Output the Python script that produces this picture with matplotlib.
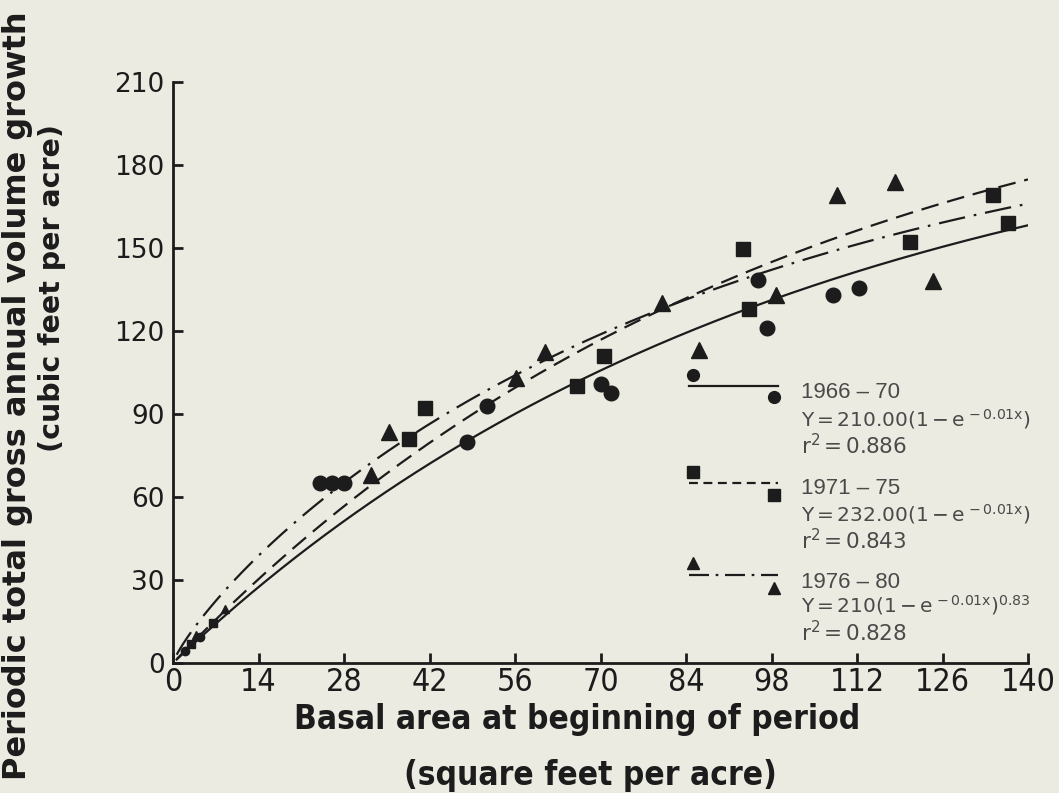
import os
import numpy as np
import matplotlib
matplotlib.use("Agg")
import matplotlib.pyplot as plt
from matplotlib import font_manager
from matplotlib.font_manager import FontProperties

# ---------------- data ----------------
x_1966 = [24, 26, 28, 48.1, 51.4, 70.0, 71.8, 95.8, 97.2, 108.1, 112.4]
y_1966 = [65, 65, 65, 80, 93, 101, 97.5, 138.5, 121, 133, 135.5]
x_1971 = [38.7, 41.2, 66.2, 70.6, 93.4, 94.3, 120.6, 134.2, 136.8]
y_1971 = [81, 92, 100, 111, 149.5, 128, 152, 169, 159]
x_1976 = [32.5, 35.3, 56.2, 60.9, 80.1, 86.1, 98.7, 108.8, 118.3, 124.5]
y_1976 = [68, 83.5, 103, 112.5, 130, 113, 133, 169, 174, 138]
# crowded points near the origin
x_1966_low = [2.0, 4.5]
y_1966_low = [4.5, 9.5]
x_1971_low = [3.0, 6.5]
y_1971_low = [7, 14.5]
x_1976_low = [3.8, 8.5]
y_1976_low = [10, 19.5]

fit_1966 = dict(a=210.0, b=0.01, p=1.0)
fit_1971 = dict(a=232.0, b=0.01, p=1.0)
fit_1976 = dict(a=210.0, b=0.01, p=0.83)

x_ticks = [0, 14, 28, 42, 56, 70, 84, 98, 112, 126, 140]
y_ticks = [0, 30, 60, 90, 120, 150, 180, 210]

legend_titles = ["1966 \u2013 70", "1971 \u2013 75", "1976 \u2013 80"]
legend_eqs = [r"$\mathregular{Y = 210.00(1 - e^{\,-0.01x})}$",
              r"$\mathregular{Y = 232.00(1 - e^{\,-0.01x})}$",
              r"$\mathregular{Y = 210(1 - e^{\,-0.01x})^{0.83}}$"]
legend_r2 = [r"$\mathregular{r^2 = 0.886}$", r"$\mathregular{r^2 = 0.843}$",
             r"$\mathregular{r^2 = 0.828}$"]

# ---------------- fonts ----------------
def find_font(bold):
    prefs = ["liberationsansnarrow", "dejavusanscondensed", "robotocondensed",
             "opensanscondensed", "notosanscondensed", "condensed", "narrow"]
    files = [f.fname for f in font_manager.fontManager.ttflist]
    for key in prefs:
        for fn in files:
            b = os.path.basename(fn).lower().replace("-", "").replace("_", "")
            if key not in b:
                continue
            if "italic" in b or "oblique" in b:
                continue
            is_bold = "bold" in b and "semibold" not in b and "extrabold" not in b
            if bold and is_bold:
                return fn
            if not bold and not any(w in b for w in ["bold", "light", "thin",
                                                     "medium", "black", "semi", "extra"]):
                return fn
    return None

cond_bold = find_font(True)
cond_reg = find_font(False)

plt.rcParams["mathtext.fontset"] = "custom"
plt.rcParams["mathtext.rm"] = "Liberation Sans"
plt.rcParams["mathtext.it"] = "Liberation Sans:italic"
plt.rcParams["mathtext.default"] = "regular"

BG = "#ECEBE1"
INK = "#1c1c1c"
TXT = "#4a4a4a"

fig = plt.figure(figsize=(10.59, 7.93), dpi=100, facecolor=BG)
W, H = 1059, 793
x0, x1, ytop, ybot = 173, 1028, 82, 663
ax = fig.add_axes([x0 / W, (H - ybot) / H, (x1 - x0) / W, (ybot - ytop) / H])
ax.set_facecolor(BG)
ax.set_xlim(0, 140)
ax.set_ylim(0, 210)
for s in ["top", "right"]:
    ax.spines[s].set_visible(False)
for s in ["left", "bottom"]:
    ax.spines[s].set_linewidth(2.0)
    ax.spines[s].set_color(INK)
    ax.spines[s].set_capstyle("projecting")

ax.set_xticks(x_ticks)
ax.set_yticks(y_ticks)
ax.tick_params(direction="in", length=7, width=2.0, color=INK)
ax.tick_params(axis="x", pad=3)
ax.tick_params(axis="y", pad=6)
if cond_reg:
    xfp = FontProperties(fname=cond_reg, size=23)
else:
    xfp = FontProperties(family="DejaVu Sans", size=18)
ax.set_xticklabels([str(t) for t in x_ticks], fontproperties=xfp, color=INK)
ax.set_yticklabels([str(t) for t in y_ticks], fontsize=19, family="DejaVu Sans",
                   color=INK)

def curve(x, a, b, p):
    return a * (1 - np.exp(-b * x)) ** p

xs = np.linspace(0.6, 140, 400)
ax.plot(xs, curve(xs, **fit_1966), color=INK, lw=1.6, ls="-")
ax.plot(xs, curve(xs, **fit_1971), color=INK, lw=1.6, ls=(0, (8, 4)))
ax.plot(xs, curve(xs, **fit_1976), color=INK, lw=1.6, ls=(0, (12, 4, 1.2, 4)))

ms = 10.5
ax.plot(x_1966, y_1966, "o", color=INK, ms=ms, mec=INK, ls="none", clip_on=False)
ax.plot(x_1971, y_1971, "s", color=INK, ms=ms - 1, mec=INK, ls="none", clip_on=False)
ax.plot(x_1976, y_1976, "^", color=INK, ms=ms + 0.5, mec=INK, ls="none", clip_on=False)
ax.plot(x_1966_low, y_1966_low, "o", color=INK, ms=6, ls="none")
ax.plot(x_1971_low, y_1971_low, "s", color=INK, ms=5.5, ls="none")
ax.plot(x_1976_low, y_1976_low, "^", color=INK, ms=6, ls="none")

# ---------------- custom legend (axes fraction) ----------------
def fx(px):
    return (px - x0) / (x1 - x0)

def fy(py):
    return (ybot - py) / (ybot - ytop)

leg = [
    ("o", "-", 375, 386, 397, (393, 419, 446)),
    ("s", (0, (4, 2.5)), 472, 483, 495, (488, 514, 541)),
    ("^", (0, (9, 3, 1.2, 3)), 563, 575, 588, (582, 605, 633)),
]
for i, (mk, ls, ym1, yl, ym2, ty) in enumerate(leg):
    ax.plot([fx(689), fx(778)], [fy(yl), fy(yl)], transform=ax.transAxes,
            color=INK, lw=1.6, ls=ls)
    ax.plot([fx(693)], [fy(ym1)], mk, color=INK, ms=8.5, transform=ax.transAxes)
    ax.plot([fx(774)], [fy(ym2)], mk, color=INK, ms=8.5, transform=ax.transAxes)
    ax.text(fx(801), fy(ty[0]), legend_titles[i], transform=ax.transAxes,
            fontsize=16, family="Liberation Sans", color=TXT, va="center", ha="left")
    ax.text(fx(801), fy(ty[1]), legend_eqs[i], transform=ax.transAxes,
            fontsize=14.5, color=TXT, va="center", ha="left")
    ax.text(fx(801), fy(ty[2]), legend_r2[i], transform=ax.transAxes,
            fontsize=15.5, color=TXT, va="center", ha="left")

# ---------------- axis titles ----------------
if cond_bold:
    tfp = FontProperties(fname=cond_bold, size=24)
else:
    tfp = FontProperties(family="DejaVu Sans", weight="bold", size=19.5)
fig.text(577 / W, 1 - 720 / H, "Basal area at beginning of period",
         fontproperties=tfp, color=INK, ha="center", va="center")
fig.text(590 / W, 1 - 775 / H, "(square feet per acre)",
         fontproperties=tfp, color=INK, ha="center", va="center")
fig.text(18 / W, 1 - 396 / H, "Periodic total gross annual volume growth",
         fontsize=23, fontweight="bold", family="DejaVu Sans", color=INK,
         rotation=90, ha="center", va="center")
fig.text(52 / W, 1 - 288 / H, "(cubic feet per acre)",
         fontsize=20.5, fontweight="bold", family="DejaVu Sans", color=INK,
         rotation=90, ha="center", va="center")

fig.savefig("out.png", dpi=100, facecolor=BG)
